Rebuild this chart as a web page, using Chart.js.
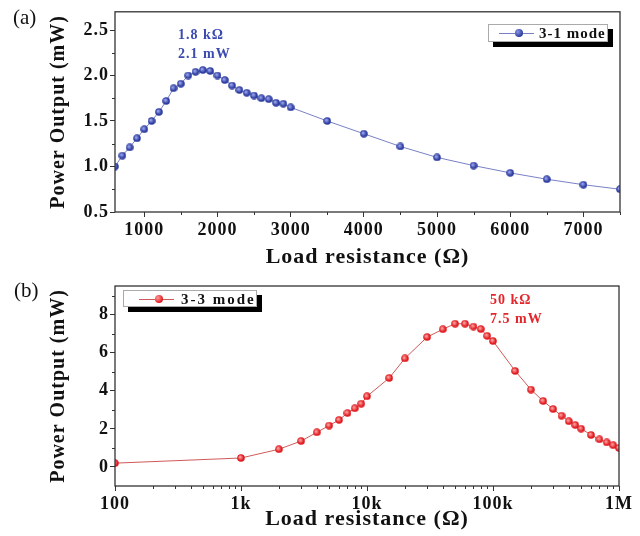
<!DOCTYPE html>
<html>
<head>
<meta charset="utf-8">
<script src="https://cdn.jsdelivr.net/npm/chart.js@4/dist/chart.umd.min.js"></script>
<style>
body{margin:0;background:#fff;}
#wrap{position:relative;width:640px;height:536px;font-family:"Liberation Serif",serif;}
canvas{position:absolute;left:0;}
#ca{top:0;}
#cb{top:270px;}
.tag{position:absolute;font-size:21px;color:#111;}
.note{position:absolute;font-weight:bold;font-size:14px;letter-spacing:1px;line-height:19px;}
.leg{position:absolute;background:#fff;border:1px solid #aaa;box-shadow:5px 5px 0 #000;box-sizing:border-box;}
.leg .ln{position:absolute;top:50%;height:1px;}
.leg .dot{position:absolute;top:50%;width:8px;height:8px;margin:-4px 0 0 -4px;border-radius:50%;}
.leg .txt{position:absolute;top:0;font-weight:bold;font-size:15px;color:#111;}
</style>
</head>
<body>
<div id="wrap">
<canvas id="ca" width="640" height="270"></canvas>
<canvas id="cb" width="640" height="266"></canvas>
<div class="tag" style="left:13px;top:5px;">(a)</div>
<div class="tag" style="left:14px;top:278px;">(b)</div>
<div class="note" style="left:178px;top:25px;color:#3b4bb0;">1.8 kΩ<br>2.1 mW</div>
<div class="note" style="left:490px;top:290px;color:#e3262b;">50 kΩ<br>7.5 mW</div>
<div class="leg" style="left:488px;top:24px;width:120px;height:18px;">
  <div class="ln" style="left:10px;width:35px;background:#7880c4;"></div>
  <div class="dot" style="left:30px;background:radial-gradient(circle at 35% 35%,#8a96e6,#2b3a9e 70%);"></div>
  <div class="txt" style="left:50px;letter-spacing:1px;">3-1 mode</div>
</div>
<div class="leg" style="left:123px;top:290px;width:134px;height:17px;">
  <div class="ln" style="left:15px;width:35px;background:#d05a5a;"></div>
  <div class="dot" style="left:35px;background:radial-gradient(circle at 35% 35%,#ff9a9a,#e01a1f 70%);"></div>
  <div class="txt" style="left:57px;letter-spacing:2px;">3-3 mode</div>
</div>
</div>
<script>
// (a) 3-1 mode
const loadA=[600,700,800,900,1000,1100,1200,1300,1400,1500,1600,1700,1800,1900,2000,2100,2200,2300,2400,2500,2600,2700,2800,2900,3000,3500,4000,4500,5000,5500,6000,6500,7000,7500];
const powerA=[1.00,1.12,1.21,1.31,1.41,1.50,1.60,1.72,1.86,1.91,2.00,2.04,2.06,2.05,2.00,1.95,1.89,1.84,1.81,1.78,1.75,1.74,1.70,1.69,1.65,1.50,1.36,1.22,1.10,1.01,0.93,0.86,0.80,0.75];
const xTicksA=[1000,2000,3000,4000,5000,6000,7000];
const xMinorA=[1500,2500,3500,4500,5500,6500,7500];
const yTicksA=[0.5,1.0,1.5,2.0,2.5];
const yMinorA=[0.75,1.25,1.75,2.25];

// (b) 3-3 mode
const loadB=[100,1000,2000,3000,4000,5000,6000,7000,8000,9000,10000,15000,20000,30000,40000,50000,60000,70000,80000,90000,100000,150000,200000,250000,300000,350000,400000,450000,500000,600000,700000,800000,900000,1000000];
const powerB=[0.20,0.47,0.93,1.36,1.82,2.17,2.47,2.83,3.08,3.32,3.71,4.67,5.70,6.82,7.23,7.52,7.52,7.37,7.24,6.88,6.61,5.04,4.06,3.46,3.04,2.69,2.40,2.20,2.01,1.68,1.45,1.29,1.14,1.00];
const xTicksB=[100,1000,10000,100000,1000000];
const xTickLabelsB=['100','1k','10k','100k','1M'];
const yTicksB=[0,2,4,6,8];
const yMinorB=[1,3,5,7,9];

function sphere(light,dark){
  const c=document.createElement('canvas');
  c.width=8;c.height=8;
  const g=c.getContext('2d');
  const gr=g.createRadialGradient(3,3,0.5,4,4,4);
  gr.addColorStop(0,light);gr.addColorStop(0.7,dark);gr.addColorStop(1,dark);
  g.fillStyle=gr;g.beginPath();g.arc(4,4,3.8,0,Math.PI*2);g.fill();
  return c;
}

const minorXB=[];
for(let d=100;d<1000000;d*=10){for(let k=2;k<=9;k++)minorXB.push(d*k);}

function framePlugin(minors){
  return {
    id:'frame',
    beforeDraw(chart){chart.ctx.letterSpacing='1px';},
    afterDraw(chart){
      const ctx=chart.ctx,a=chart.chartArea;
      ctx.save();
      ctx.strokeStyle='#333';ctx.lineWidth=1.3;
      ctx.strokeRect(a.left,a.top,a.right-a.left,a.bottom-a.top);
      ctx.lineWidth=1;
      const xs=chart.scales.x,ys=chart.scales.y;
      ctx.beginPath();
      minors.x.forEach(v=>{
        const p=Math.round(xs.getPixelForValue(v))+0.5;
        if(p<a.left-1||p>a.right+1)return;
        ctx.moveTo(p,a.bottom);ctx.lineTo(p,a.bottom+3);
      });
      minors.y.forEach(v=>{
        const p=Math.round(ys.getPixelForValue(v))+0.5;
        if(p<a.top-1||p>a.bottom+1)return;
        ctx.moveTo(a.left,p);ctx.lineTo(a.left-3,p);
      });
      ctx.stroke();
      ctx.restore();
    }
  };
}

const tickFont={family:'Liberation Serif',weight:'bold',size:18};
const xTitleFont={family:'Liberation Serif',weight:'bold',size:22};
const yTitleFont={family:'Liberation Serif',weight:'bold',size:20};

function makeChart(id,cfg){
  return new Chart(document.getElementById(id),{
    type:'line',
    data:{datasets:[{
      label:cfg.label,
      data:cfg.xs.map((x,i)=>({x:x,y:cfg.ys[i]})),
      borderColor:cfg.line,borderWidth:1,
      pointStyle:cfg.point,pointRadius:4,
      tension:0
    }]},
    options:{
      responsive:false,animation:false,
      layout:{padding:{top:cfg.top,right:cfg.right,left:0,bottom:0}},
      plugins:{legend:{display:false},tooltip:{enabled:false}},
      scales:{
        x:cfg.xScale,
        y:cfg.yScale
      }
    },
    plugins:[framePlugin(cfg.minors)]
  });
}

function xAxis(extra,padBottom){
  return Object.assign({
    border:{display:false},
    grid:{drawOnChartArea:false,tickLength:5,tickColor:'#333'},
    title:{display:true,text:'Load resistance (Ω)',font:xTitleFont,color:'#111',padding:{top:0,bottom:padBottom}}
  },extra);
}
function yAxis(extra){
  return Object.assign({
    border:{display:false},
    grid:{drawOnChartArea:false,tickLength:5,tickColor:'#333'},
    title:{display:true,text:'Power Output (mW)',font:yTitleFont,color:'#111',padding:{top:47,bottom:0}},
    afterFit(s){s.width=115;}
  },extra);
}

makeChart('ca',{
  label:'3-1 mode',xs:loadA,ys:powerA,
  line:'#7880c4',point:sphere('#9aa4ee','#2b3a9e'),
  top:11,right:20,
  minors:{x:xMinorA,y:yMinorA},
  xScale:xAxis({type:'linear',min:600,max:7500,
    afterBuildTicks(s){s.ticks=xTicksA.map(v=>({value:v}));},
    ticks:{font:tickFont,color:'#111',padding:3,maxRotation:0,autoSkip:false,callback:v=>String(v)},
    afterFit(s){s.height=58;}},-1),
  yScale:yAxis({min:0.5,max:2.7,
    afterBuildTicks(s){s.ticks=yTicksA.map(v=>({value:v}));},
    ticks:{font:tickFont,color:'#111',padding:1,autoSkip:false,callback:v=>v.toFixed(1)}})
});

makeChart('cb',{
  label:'3-3 mode',xs:loadB,ys:powerB,
  line:'#d05a5a',point:sphere('#ffa0a0','#e01a1f'),
  top:16,right:21,
  minors:{x:minorXB,y:yMinorB},
  xScale:xAxis({type:'logarithmic',min:100,max:1000000,
    afterBuildTicks(s){s.ticks=xTicksB.map(v=>({value:v}));},
    ticks:{font:tickFont,color:'#111',padding:3,maxRotation:0,autoSkip:false,
      callback:v=>xTickLabelsB[xTicksB.indexOf(v)]},
    afterFit(s){s.height=50;}},3),
  yScale:yAxis({min:-1,max:9.5,
    afterBuildTicks(s){s.ticks=yTicksB.map(v=>({value:v}));},
    ticks:{font:tickFont,color:'#111',padding:1,autoSkip:false,callback:v=>String(v)}})
});
</script>
</body>
</html>
